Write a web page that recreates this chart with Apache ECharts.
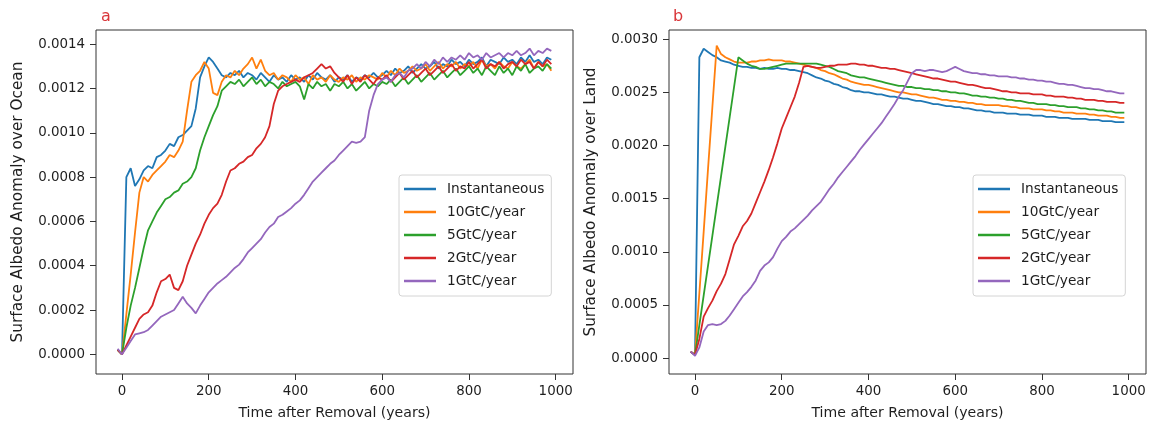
<!DOCTYPE html>
<html>
<head>
<meta charset="utf-8">
<script src="https://cdn.jsdelivr.net/npm/echarts@6/dist/echarts.min.js"></script>
<style>
html,body{margin:0;padding:0;background:#fff;}
#chart{width:1149px;height:429px;}
</style>
</head>
<body>
<div id="chart"></div>
<script>
// Sample years (every 10 years from -10 to 990)
const years = Array.from({length: 101}, (_, i) => -10 + 10 * i);
// All anomaly values below are in units of 1e-4
const UNIT = 1e-4;
const seriesNames = ['Instantaneous', '10GtC/year', '5GtC/year', '2GtC/year', '1GtC/year'];
const colors = ['#1f77b4', '#ff7f0e', '#2ca02c', '#d62728', '#9467bd'];

// Panel a: Surface albedo anomaly over ocean
const oceanInst = [0.2,
 0.0, 8.0, 8.4, 7.6, 7.9, 8.3, 8.5, 8.4, 8.9, 9.0,
 9.2, 9.5, 9.4, 9.8, 9.9, 10.1, 10.3, 11.1, 12.5, 13.0,
 13.4, 13.2, 12.9, 12.6, 12.5, 12.7, 12.6, 12.8, 12.5, 12.7,
 12.6, 12.4, 12.7, 12.5, 12.3, 12.6, 12.4, 12.5, 12.3, 12.6,
 12.4, 12.5, 12.3, 12.6, 12.4, 12.7, 12.5, 12.4, 12.6, 12.3,
 12.5, 12.4, 12.6, 12.3, 12.5, 12.4, 12.6, 12.5, 12.7, 12.5,
 12.6, 12.8, 12.6, 12.9, 12.7, 12.8, 13.0, 12.7, 12.9, 13.1,
 12.9, 13.0, 13.2, 12.9, 13.1, 13.0, 13.3, 13.1, 13.2, 13.0,
 13.3, 13.1, 13.2, 13.4, 13.0, 13.3, 13.2, 13.1, 13.4, 13.2,
 13.3, 13.1, 13.4, 13.2, 13.5, 13.2, 13.3, 13.1, 13.4, 13.3];
const ocean10 = [0.2,
 0.0, 1.8, 3.6, 5.5, 7.3, 8.0, 7.8, 8.1, 8.3, 8.5,
 8.7, 9.0, 8.9, 9.2, 9.6, 11.0, 12.3, 12.6, 12.8, 13.2,
 12.9, 11.8, 11.7, 12.3, 12.6, 12.5, 12.8, 12.6, 12.9, 13.1,
 13.4, 12.9, 13.3, 12.8, 12.6, 12.7, 12.4, 12.6, 12.5, 12.3,
 12.6, 12.4, 12.5, 12.2, 12.6, 12.4, 12.5, 12.3, 12.6, 12.4,
 12.3, 12.5, 12.4, 12.6, 12.3, 12.5, 12.4, 12.6, 12.5, 12.4,
 12.7, 12.5, 12.8, 12.6, 12.9, 12.7, 12.8, 13.0, 12.8, 12.9,
 13.1, 12.8, 13.0, 13.2, 12.9, 13.1, 13.0, 13.2, 12.9, 13.1,
 13.0, 13.2, 12.9, 13.3, 13.0, 13.1, 12.9, 13.2, 13.0, 12.9,
 13.2, 13.0, 12.9, 13.1, 13.3, 12.9, 13.2, 13.0, 13.1, 12.8];
const ocean5 = [0.2,
 0.0, 1.2, 2.2, 3.0, 3.9, 4.8, 5.6, 6.0, 6.4, 6.7,
 7.0, 7.1, 7.3, 7.4, 7.7, 7.8, 8.0, 8.4, 9.2, 9.8,
 10.3, 10.8, 11.2, 11.9, 12.1, 12.3, 12.2, 12.4, 12.1, 12.3,
 12.5, 12.2, 12.4, 12.1, 12.3, 12.2, 12.0, 12.3, 12.1, 12.2,
 12.3, 12.1, 11.5, 12.2, 12.0, 12.3, 12.1, 12.2, 11.9, 12.2,
 12.1, 12.3, 12.0, 12.2, 11.9, 12.1, 12.3, 12.0, 12.2, 12.1,
 12.3, 12.2, 12.4, 12.1, 12.3, 12.5, 12.2, 12.4, 12.6, 12.3,
 12.5, 12.7, 12.4, 12.6, 12.8, 12.5, 12.7, 12.9, 12.6, 12.8,
 13.0, 12.7, 12.9, 12.6, 13.0, 12.8, 12.6, 13.0, 12.7, 12.9,
 12.6, 13.0, 12.8, 13.1, 12.7, 12.9, 13.0, 12.8, 13.1, 12.9];
const ocean2 = [0.2,
 0.0, 0.4, 0.8, 1.2, 1.6, 1.8, 1.9, 2.2, 2.8, 3.3,
 3.4, 3.6, 3.0, 2.9, 3.3, 4.0, 4.5, 5.0, 5.4, 5.9,
 6.3, 6.6, 6.8, 7.2, 7.8, 8.3, 8.4, 8.6, 8.7, 8.9,
 9.0, 9.3, 9.5, 9.8, 10.3, 11.3, 11.9, 12.1, 12.2, 12.3,
 12.4, 12.3, 12.5, 12.6, 12.7, 12.9, 13.1, 12.9, 13.0, 12.7,
 12.5, 12.3, 12.6, 12.2, 12.5, 12.3, 12.6, 12.4, 12.2, 12.5,
 12.4, 12.6, 12.3, 12.5, 12.7, 12.4, 12.6, 12.8, 12.5, 12.7,
 12.9, 12.6, 12.8, 13.0, 12.7, 12.9, 13.1, 12.8, 13.0, 12.9,
 13.2, 12.9, 13.1, 13.3, 12.9, 13.1, 13.0, 13.2, 12.9, 13.1,
 13.2, 13.0, 13.3, 13.1, 13.2, 12.9, 13.2, 13.0, 13.3, 13.1];
const ocean1 = [0.25,
 0.0, 0.3, 0.6, 0.9, 0.95, 1.0, 1.1, 1.3, 1.5, 1.7,
 1.8, 1.9, 2.0, 2.3, 2.6, 2.3, 2.1, 1.85, 2.2, 2.5,
 2.8, 3.0, 3.2, 3.35, 3.5, 3.7, 3.9, 4.05, 4.3, 4.6,
 4.8, 5.0, 5.2, 5.5, 5.75, 5.9, 6.2, 6.3, 6.45, 6.6,
 6.8, 6.95, 7.2, 7.5, 7.8, 8.0, 8.2, 8.4, 8.6, 8.75,
 9.0, 9.2, 9.4, 9.6, 9.55, 9.6, 9.8, 11.0, 11.7, 12.2,
 12.4, 12.5, 12.3, 12.6, 12.7, 12.5, 12.8, 12.9, 13.1, 12.9,
 13.2, 13.0, 13.3, 13.1, 13.4, 13.2, 13.4, 13.3, 13.5, 13.3,
 13.6, 13.4, 13.5, 13.3, 13.6, 13.4, 13.5, 13.6, 13.4, 13.6,
 13.5, 13.7, 13.5, 13.6, 13.8, 13.5, 13.7, 13.6, 13.8, 13.7];

// Panel b: Surface albedo anomaly over land
const landInst = [0.6,
 0.3, 28.3, 29.1, 28.8, 28.5, 28.3, 28.0, 27.9, 27.8, 27.6,
 27.5, 27.4, 27.4, 27.3, 27.3, 27.2, 27.3, 27.2, 27.2, 27.3,
 27.2, 27.2, 27.1, 27.1, 27.0, 26.9, 26.8, 26.6, 26.4, 26.3,
 26.1, 26.0, 25.8, 25.7, 25.5, 25.4, 25.2, 25.1, 25.1, 25.0,
 25.0, 24.9, 24.8, 24.8, 24.7, 24.6, 24.6, 24.5, 24.4, 24.4,
 24.3, 24.2, 24.2, 24.1, 24.0, 23.9, 23.9, 23.8, 23.7, 23.7,
 23.6, 23.6, 23.5, 23.5, 23.4, 23.3, 23.3, 23.2, 23.2, 23.1,
 23.1, 23.1, 23.0, 23.0, 23.0, 22.9, 22.9, 22.9, 22.8, 22.8,
 22.8, 22.7, 22.7, 22.7, 22.6, 22.6, 22.6, 22.5, 22.5, 22.5,
 22.5, 22.4, 22.4, 22.4, 22.3, 22.3, 22.3, 22.2, 22.2, 22.2];
const land10 = [0.6,
 0.3, 6.1, 11.9, 17.8, 23.6, 29.4, 28.6, 28.3, 28.1, 27.9,
 27.8, 27.8, 27.8, 27.9, 27.9, 28.0, 28.0, 28.1, 28.0, 28.0,
 28.0, 27.9, 27.9, 27.8, 27.7, 27.6, 27.5, 27.4, 27.3, 27.1,
 27.0, 26.8, 26.7, 26.5, 26.3, 26.2, 26.0, 25.9, 25.8, 25.7,
 25.7, 25.6, 25.5, 25.4, 25.3, 25.2, 25.1, 25.0, 25.0, 24.9,
 24.8, 24.8, 24.7, 24.6, 24.5, 24.5, 24.4, 24.3, 24.3, 24.2,
 24.2, 24.1, 24.1, 24.0, 24.0, 23.9, 23.9, 23.8, 23.8, 23.8,
 23.8, 23.7, 23.7, 23.6, 23.6, 23.5, 23.5, 23.5, 23.4, 23.4,
 23.4, 23.3, 23.3, 23.2, 23.2, 23.1, 23.1, 23.1, 23.0, 23.0,
 23.0, 22.9, 22.9, 22.8, 22.8, 22.8, 22.7, 22.7, 22.6, 22.6];
const land5 = [0.6,
 0.3, 3.1, 5.9, 8.7, 11.5, 14.3, 17.1, 19.9, 22.7, 25.5,
 28.3, 28.0, 27.7, 27.5, 27.4, 27.2, 27.2, 27.3, 27.4, 27.5,
 27.6, 27.7, 27.7, 27.7, 27.7, 27.7, 27.7, 27.7, 27.7, 27.6,
 27.5, 27.4, 27.2, 27.0, 26.9, 26.8, 26.6, 26.5, 26.4, 26.4,
 26.3, 26.2, 26.1, 26.0, 25.9, 25.8, 25.7, 25.6, 25.6, 25.5,
 25.5, 25.4, 25.4, 25.3, 25.3, 25.2, 25.2, 25.1, 25.1, 25.0,
 25.0, 24.9, 24.9, 24.8, 24.7, 24.7, 24.6, 24.6, 24.5, 24.5,
 24.4, 24.4, 24.3, 24.3, 24.2, 24.2, 24.1, 24.0, 24.0, 23.9,
 23.9, 23.9, 23.8, 23.8, 23.7, 23.7, 23.6, 23.6, 23.6, 23.5,
 23.5, 23.4, 23.4, 23.3, 23.3, 23.2, 23.2, 23.1, 23.1, 23.1];
const land2 = [0.6,
 0.3, 1.8, 3.9, 4.7, 5.4, 6.3, 7.0, 7.9, 9.3, 10.7,
 11.5, 12.4, 12.9, 13.6, 14.6, 15.6, 16.6, 17.7, 18.9, 20.2,
 21.6, 22.6, 23.6, 24.6, 25.9, 27.4, 27.5, 27.4, 27.3, 27.3,
 27.4, 27.5, 27.5, 27.6, 27.6, 27.6, 27.7, 27.7, 27.6, 27.6,
 27.5, 27.5, 27.4, 27.3, 27.3, 27.2, 27.2, 27.1, 27.0, 26.9,
 26.8, 26.7, 26.6, 26.5, 26.4, 26.3, 26.3, 26.2, 26.1, 26.0,
 26.0, 25.9, 25.8, 25.7, 25.7, 25.6, 25.5, 25.4, 25.4, 25.3,
 25.2, 25.1, 25.1, 25.0, 25.0, 24.9, 24.9, 24.9, 24.8, 24.8,
 24.8, 24.7, 24.7, 24.6, 24.6, 24.6, 24.5, 24.5, 24.4, 24.4,
 24.3, 24.3, 24.3, 24.2, 24.2, 24.1, 24.1, 24.1, 24.0, 24.0];
const land1 = [0.6,
 0.2, 1.0, 2.5, 3.1, 3.2, 3.1, 3.2, 3.5, 4.0, 4.6,
 5.2, 5.8, 6.2, 6.7, 7.3, 8.2, 8.7, 9.0, 9.5, 10.3,
 11.0, 11.4, 11.9, 12.2, 12.6, 13.0, 13.4, 13.9, 14.3, 14.7,
 15.3, 15.9, 16.4, 17.0, 17.5, 18.0, 18.5, 19.0, 19.6, 20.1,
 20.6, 21.1, 21.6, 22.1, 22.7, 23.3, 23.9, 24.6, 25.2, 26.0,
 26.8, 27.1, 27.1, 27.0, 27.1, 27.1, 27.0, 26.9, 27.0, 27.2,
 27.4, 27.2, 27.0, 26.9, 26.8, 26.8, 26.7, 26.7, 26.6, 26.6,
 26.5, 26.5, 26.5, 26.4, 26.4, 26.3, 26.3, 26.2, 26.2, 26.1,
 26.1, 26.0, 26.0, 25.9, 25.8, 25.8, 25.7, 25.7, 25.6, 25.5,
 25.4, 25.4, 25.3, 25.3, 25.2, 25.1, 25.1, 25.0, 24.9, 24.9];

const oceanSeries = [oceanInst, ocean10, ocean5, ocean2, ocean1];
const landSeries = [landInst, land10, land5, land2, land1];

const xTicks = [0, 200, 400, 600, 800, 1000];
const oceanTicks = [0, 0.0002, 0.0004, 0.0006, 0.0008, 0.0010, 0.0012, 0.0014];
const landTicks = [0, 0.0005, 0.0010, 0.0015, 0.0020, 0.0025, 0.0030];

const xTitle = 'Time after Removal (years)';
const oceanTitle = 'Surface Albedo Anomaly over Ocean';
const landTitle = 'Surface Albedo Anomaly over Land';

const FONT = 'DejaVu Sans';
const TXT = '#1e1e1e';
const AX = '#333333';

function xAxisCfg(gi) {
  return {
    type: 'value', gridIndex: gi, min: -60, max: 1040, position: 'bottom',
    name: xTitle, nameLocation: 'middle', nameGap: 32, nameMoveOverlap: false,
    nameTextStyle: {fontFamily: FONT, fontSize: 14.1, color: TXT},
    axisLine: {show: false, onZero: false},
    axisTick: {show: true, inside: false, length: 6, lineStyle: {color: AX}, customValues: xTicks},
    axisLabel: {fontFamily: FONT, fontSize: 13.4, color: TXT, margin: 11, customValues: xTicks,
      formatter: v => String(Math.round(v))},
    splitLine: {show: false}
  };
}
function yAxisCfg(gi, min, max, ticks, title) {
  return {
    type: 'value', gridIndex: gi, min: min, max: max, position: 'left',
    name: title, nameLocation: 'middle', nameGap: 70, nameRotate: 90, nameMoveOverlap: false,
    nameTextStyle: {fontFamily: FONT, fontSize: 15.3, color: TXT},
    axisLine: {show: false, onZero: false},
    axisTick: {show: true, inside: false, length: 6, lineStyle: {color: AX}, customValues: ticks},
    axisLabel: {fontFamily: FONT, fontSize: 13.4, color: TXT, margin: 11, customValues: ticks,
      formatter: v => v.toFixed(4)},
    splitLine: {show: false}
  };
}
function legendCfg(left, top) {
  return {
    show: true, orient: 'vertical', left: left, top: top,
    data: seriesNames,
    icon: 'rect', itemWidth: 32, itemHeight: 2.5, itemGap: 7,
    padding: [6, 7, 7, 5],
    backgroundColor: 'rgba(255,255,255,0.8)',
    borderColor: '#d4d4d4', borderWidth: 1, borderRadius: 3,
    textStyle: {fontFamily: FONT, fontSize: 13.7, color: TXT, lineHeight: 16, padding: [0, 0, 0, 6]},
    selectedMode: false
  };
}

const series = [];
seriesNames.forEach((name, k) => {
  series.push({
    name: name, type: 'line', xAxisIndex: 0, yAxisIndex: 0,
    data: years.map((yr, i) => [yr, oceanSeries[k][i] * UNIT]),
    showSymbol: false, symbol: 'none', clip: true,
    lineStyle: {color: colors[k], width: 1.8}, itemStyle: {color: colors[k]},
    z: 2 + k
  });
});
seriesNames.forEach((name, k) => {
  series.push({
    name: name, type: 'line', xAxisIndex: 1, yAxisIndex: 1,
    data: years.map((yr, i) => [yr, landSeries[k][i] * UNIT]),
    showSymbol: false, symbol: 'none', clip: true,
    lineStyle: {color: colors[k], width: 1.8}, itemStyle: {color: colors[k]},
    z: 2 + k
  });
});

const option = {
  animation: false,
  backgroundColor: '#ffffff',
  color: colors,
  title: [
    {text: 'a', left: 96, top: 4, textStyle: {fontFamily: FONT, fontSize: 16, fontWeight: 'normal', color: '#d9363a'}},
    {text: 'b', left: 668, top: 4, textStyle: {fontFamily: FONT, fontSize: 16, fontWeight: 'normal', color: '#d9363a'}}
  ],
  grid: [
    {left: 96, top: 30, width: 477, height: 344, show: true, borderColor: AX, borderWidth: 1, backgroundColor: 'transparent'},
    {left: 669, top: 30, width: 477, height: 344, show: true, borderColor: AX, borderWidth: 1, backgroundColor: 'transparent'}
  ],
  xAxis: [xAxisCfg(0), xAxisCfg(1)],
  yAxis: [
    yAxisCfg(0, -0.0000887, 0.001464, oceanTicks, oceanTitle),
    yAxisCfg(1, -0.00015, 0.0030865, landTicks, landTitle)
  ],
  legend: [legendCfg(399, 175), legendCfg(973, 175)],
  series: series
};

const chart = echarts.init(document.getElementById('chart'), null, {renderer: 'canvas'});
chart.setOption(option);
</script>
</body>
</html>
